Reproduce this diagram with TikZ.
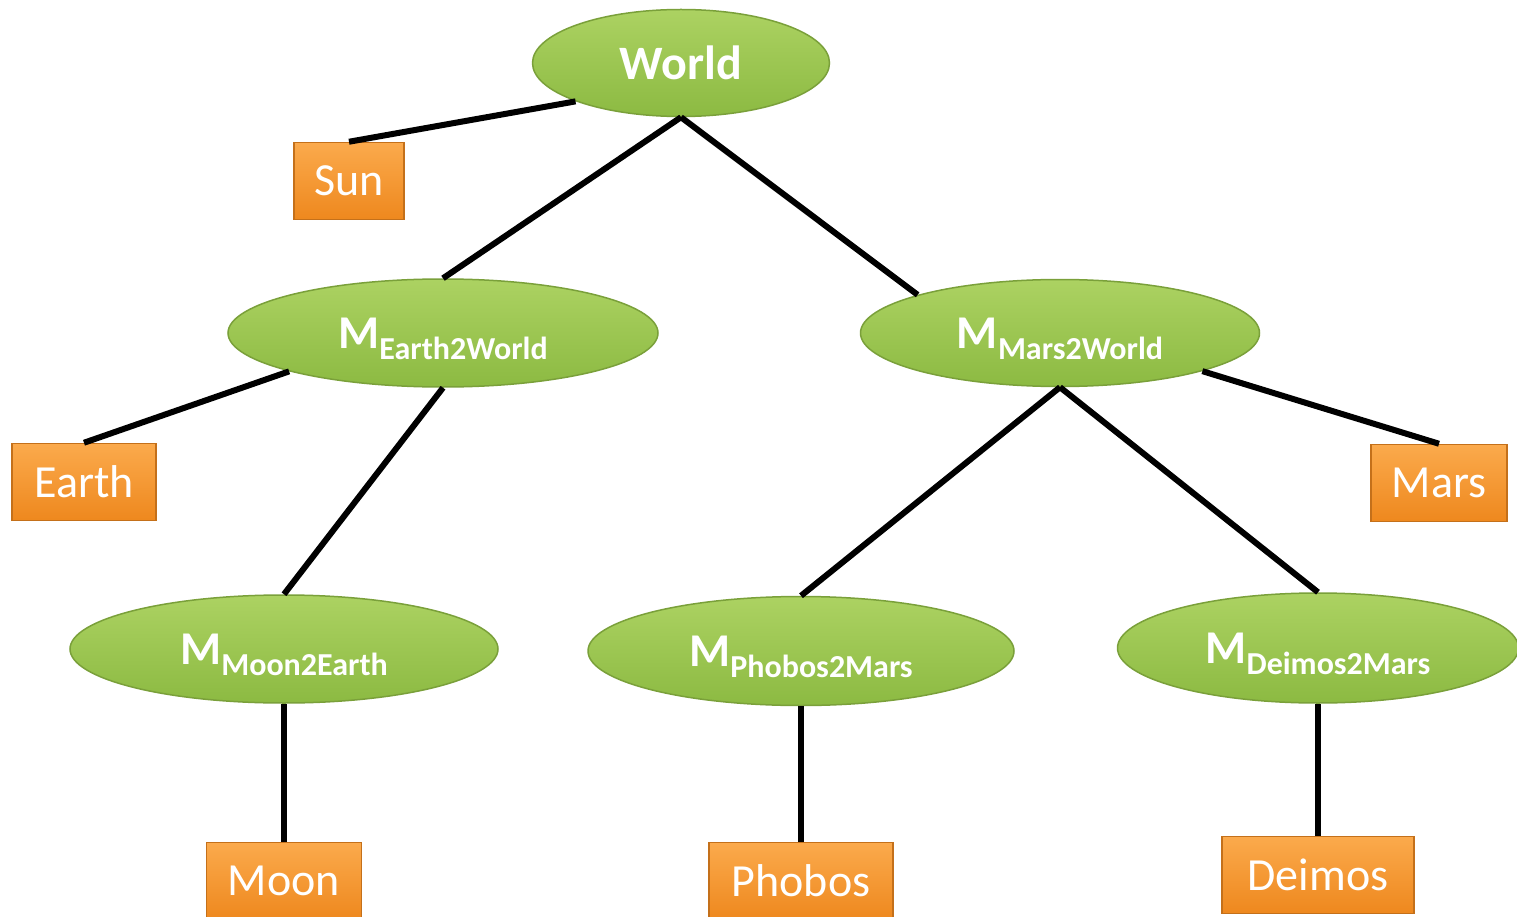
\documentclass[tikz,border=0pt]{standalone}
\usepackage{fontspec}
\setmainfont{Carlito}
\usetikzlibrary{shapes.geometric}

\definecolor{xfhi}{RGB}{172,210,98}
\definecolor{xflo}{RGB}{140,186,66}
\definecolor{xfedge}{RGB}{122,160,58}
\definecolor{plhi}{RGB}{251,170,76}
\definecolor{pllo}{RGB}{238,136,30}
\definecolor{pledge}{RGB}{196,112,26}

\newcommand{\msub}[1]{{\fontsize{47}{47}\selectfont M}\raisebox{-11pt}[\height][0pt]{\fontsize{32}{32}\selectfont #1}}

\begin{document}
\begin{tikzpicture}[x=1pt,y=-1pt,
    xform/.style={ellipse,draw=xfedge,line width=1.5pt,top color=xfhi,bottom color=xflo,
                  text=white,font=\bfseries,inner sep=0pt},
    planet/.style={rectangle,draw=pledge,line width=1.5pt,top color=plhi,bottom color=pllo,
                   text=white,font=\fontsize{46}{46}\selectfont,inner sep=0pt,minimum height=77pt},
    link/.style={line width=6pt}]

    \useasboundingbox (0,0) rectangle (1517,917);
    \clip (0,0) rectangle (1517,917);

    \node[xform,minimum width=297pt,minimum height=107pt] (world) at (681,63) {\fontsize{48}{48}\selectfont World};
    \node[planet,minimum width=110pt] (sun) at (349,181) {Sun};

    \node[xform,minimum width=430pt,minimum height=108pt] (earthw) at (443,333) {\msub{Earth2World}};
    \node[xform,minimum width=399pt,minimum height=107pt] (marsw) at (1060,333) {\msub{Mars2World}};
    \node[planet,minimum width=144pt] (earth) at (84,482) {Earth};
    \node[planet,minimum width=136pt] (mars) at (1439,483) {Mars};

    \node[xform,minimum width=428pt,minimum height=108pt] (moone) at (284,649) {\msub{Moon2Earth}};
    \node[xform,minimum width=426pt,minimum height=109pt] (phobosm) at (801,651) {\msub{Phobos2Mars}};
    \node[xform,minimum width=401pt,minimum height=110pt] (deimosm) at (1318,648) {\msub{Deimos2Mars}};

    \node[planet,minimum width=155pt] (moon) at (284,881) {Moon};
    \node[planet,minimum width=184pt] (phobos) at (801,881) {Phobos};
    \node[planet,minimum width=192pt] (deimos) at (1318,875) {Deimos};

    \draw[link] (world.200) -- (sun.north);
    \draw[link] (world.south) -- (earthw.north);
    \draw[link] (world.south) -- (marsw.165);
    \draw[link] (earthw.194) -- (earth.north);
    \draw[link] (earthw.south) -- (moone.north);
    \draw[link] (marsw.345) -- (mars.north);
    \draw[link] (marsw.south) -- (phobosm.north);
    \draw[link] (marsw.south) -- (deimosm.north);
    \draw[link] (moone.south) -- (moon.north);
    \draw[link] (phobosm.south) -- (phobos.north);
    \draw[link] (deimosm.south) -- (deimos.north);
\end{tikzpicture}
\end{document}
